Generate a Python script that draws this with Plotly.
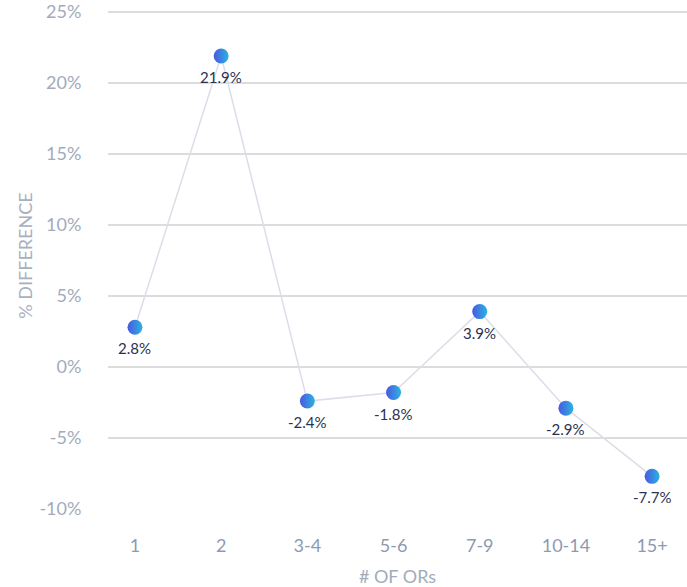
import plotly.graph_objects as go

# Number of operating rooms per facility vs. percentage difference
categories = ["1", "2", "3-4", "5-6", "7-9", "10-14", "15+"]
pct_diff = [2.8, 21.9, -2.4, -1.8, 3.9, -2.9, -7.7]
y_ticks = [25, 20, 15, 10, 5, 0, -5, -10]
y_tick_labels = ["25%", "20%", "15%", "10%", "5%", "0%", "-5%", "-10%"]

labels = [f"{v:.1f}%" for v in pct_diff]
xpos = list(range(len(categories)))

fig = go.Figure()
fig.add_trace(go.Scatter(
    x=xpos,
    y=pct_diff,
    mode="lines+markers",
    line=dict(color="#dcdde9", width=1.5),
    marker=dict(
        size=15,
        color="#4a58e0",
        gradient=dict(type="horizontal", color="#2bb3e2"),
        line=dict(width=0),
    ),
    cliponaxis=False,
    hoverinfo="skip",
))

# value labels just below each point
for x, y, t in zip(xpos, pct_diff, labels):
    fig.add_annotation(
        x=x, y=y, text=t, showarrow=False,
        yshift=-21,
        font=dict(family="Lato", size=15, color="#2b3152"),
    )

fig.update_layout(
    width=687,
    height=587,
    margin=dict(l=108, r=0, t=0, b=78),
    paper_bgcolor="white",
    plot_bgcolor="white",
    showlegend=False,
    font=dict(family="Lato", color="#a3abbb"),
    xaxis=dict(
        range=[-0.313, 6.405],
        tickmode="array",
        tickvals=xpos,
        ticktext=categories,
        showgrid=False,
        zeroline=False,
        showline=False,
        ticks="outside",
        ticklen=20,
        tickcolor="rgba(0,0,0,0)",
        tickfont=dict(size=18, color="#8e9ab0"),
        title=dict(text="# OF ORs", font=dict(size=18, color="#a3abbb"), standoff=19),
    ),
    yaxis=dict(
        range=[-10.0, 25.7],
        tickmode="array",
        tickvals=y_ticks,
        ticktext=y_tick_labels,
        ticklabeloverflow="allow",
        showgrid=True,
        gridcolor="#dcdcdc",
        gridwidth=1.5,
        zeroline=False,
        showline=False,
        ticks="outside",
        ticklen=22,
        tickcolor="rgba(0,0,0,0)",
        tickfont=dict(size=18, color="#a3abbb"),
        title=dict(text="% DIFFERENCE", font=dict(size=18, color="#a8b0c0"), standoff=2),
    ),
)

fig.write_html("out.html")
